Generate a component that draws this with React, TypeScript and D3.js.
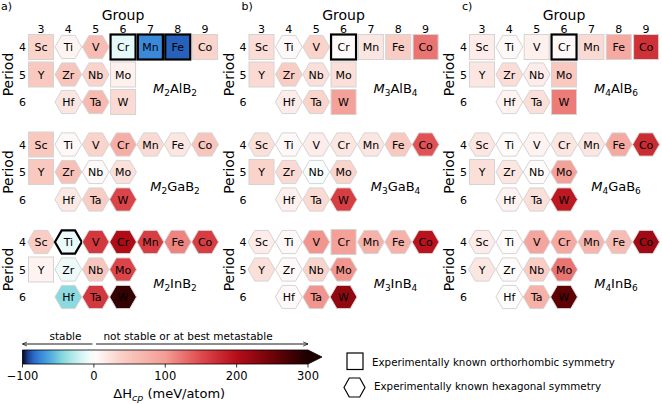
import * as d3 from "d3"

// elements laid out as in the periodic table
const elements = ["Sc", "Ti", "V", "Cr", "Mn", "Fe", "Co", "Y", "Zr", "Nb", "Mo", "Hf", "Ta", "W"]
const groups = [3, 4, 5, 6, 7, 8, 9, 3, 4, 5, 6, 4, 5, 6]
const periods = [4, 4, 4, 4, 4, 4, 4, 5, 5, 5, 5, 6, 6, 6]

const groupTicks = [3, 4, 5, 6, 7, 8, 9]
const periodTicks = [4, 5, 6]
const panelLetters = ["a)", "b)", "c)"]

// compound M_nAB_m : columns are n (2,3,4), rows are A (Al, Ga, In)
const mIndex = ["2", "3", "4"]
const bIndex = ["2", "4", "6"]
const aElements = ["Al", "Ga", "In"]

// ΔH_cp (meV/atom), same order as elements
const dH_M2AlB2 = [35, 8, 60, -10, -74, -86, 35, 45, 50, 35, 12, 20, 65, 30]
const dH_M2GaB2 = [45, 5, 35, 80, 30, 20, 50, 45, 55, 5, 25, 18, 40, 155]
const dH_M2InB2 = [40, -8, 165, 205, 160, 115, 160, 10, -7, 50, 155, -42, 165, 285]
const dH_M3AlB4 = [28, 5, 35, 4, 20, 40, 125, 30, 40, 25, 25, 15, 35, 95]
const dH_M3GaB4 = [25, 5, 15, 20, 20, 45, 145, 35, 30, -3, 35, 12, 30, 160]
const dH_M3InB4 = [15, 5, 105, 95, 75, 75, 195, 25, 5, 35, 105, 5, 105, 225]
const dH_M4AlB6 = [15, 5, 12, 5, 30, 85, 170, 20, 28, 15, 45, 10, 25, 120]
const dH_M4GaB6 = [20, 3, 10, 20, 20, 85, 175, 25, 20, 3, 95, 10, 25, 190]
const dH_M4InB6 = [15, 3, 90, 85, 70, 60, 215, 20, 3, 40, 125, 2, 75, 260]

// s = orthorhombic (square), h = hexagonal
const shape_M2AlB2 = "shhssss shhs hhs"
const shape_M2GaB2 = "shhhhhh shhh hhh"
const shape_M2InB2 = "hhhhhhh shhh hhh"
const shape_M3AlB4 = "shhssss shhs hhs"
const shape_M3GaB4 = "hhhhhhh shhh hhh"
const shape_M3InB4 = "hhhshhh hhhh hhh"
const shape_M4AlB6 = "shsssss shhs hhs"
const shape_M4GaB6 = "hhhhhhh shhh hhh"
const shape_M4InB6 = "hhhhhhh hhhh hhh"

// experimentally known
const exp_M2AlB2 = ["Cr", "Mn", "Fe"]
const exp_M2InB2 = ["Ti"]
const exp_M3AlB4 = ["Cr"]
const exp_M4AlB6 = ["Cr"]

// grid [row A][col n]
const values = [
  [dH_M2AlB2, dH_M3AlB4, dH_M4AlB6],
  [dH_M2GaB2, dH_M3GaB4, dH_M4GaB6],
  [dH_M2InB2, dH_M3InB4, dH_M4InB6],
]
const shapes = [
  [shape_M2AlB2, shape_M3AlB4, shape_M4AlB6],
  [shape_M2GaB2, shape_M3GaB4, shape_M4GaB6],
  [shape_M2InB2, shape_M3InB4, shape_M4InB6],
]
const known = [
  [exp_M2AlB2, exp_M3AlB4, exp_M4AlB6],
  [[], [], []],
  [exp_M2InB2, [], []],
]

const cbTicks = [-100, 0, 100, 200, 300]

const FONT = "DejaVu Sans, sans-serif"

const color = d3
  .scaleLinear<string>()
  .domain([-100, -93, -82, -64, -46, -24, 0, 40, 100, 150, 200, 250, 300])
  .range([
    "#05061c",
    "#1a3f90",
    "#2f74d4",
    "#4aa3e0",
    "#80d5dc",
    "#c4efef",
    "#ffffff",
    "#f9cdc4",
    "#f39d95",
    "#df4a4d",
    "#b50d19",
    "#6e0307",
    "#1c0000",
  ])
  .interpolate(d3.interpolateRgb)
  .clamp(true)

const panelX = d3.scaleLinear().domain([0, 2]).range([41, 482])
const panelY = d3.scaleLinear().domain([0, 2]).range([47, 242])
const gx = d3.scaleLinear().domain([3, 9]).range([0, 6 * 27.35])
const py = d3.scaleLinear().domain([4, 6]).range([0, 55])
const cbX = d3.scaleLinear().domain([-100, 300]).range([22.5, 308])

const R = 13.4
const H = 11.6
const hexPath = (r: number, h: number) =>
  d3.line()([
    [-r, 0],
    [-r / 2, -h],
    [r / 2, -h],
    [r, 0],
    [r / 2, h],
    [-r / 2, h],
  ]) + "Z"

function Panel({ row, col }: { row: number; col: number }) {
  const ox = panelX(col)
  const oy = panelY(row)
  const vals = values[row][col]
  const shp = shapes[row][col].replace(/ /g, "")
  const exp = known[row][col]
  return (
    <g>
      {row === 0 && (
        <g>
          <text x={ox - 40 + (col === 0 ? 0 : 20)} y={10} fontSize={11}>
            {panelLetters[col]}
          </text>
          <text x={ox + gx(6)} y={20} fontSize={14} textAnchor="middle">
            Group
          </text>
          {groupTicks.map((g) => (
            <text key={g} x={ox + gx(g)} y={33} fontSize={11} textAnchor="middle">
              {g}
            </text>
          ))}
        </g>
      )}
      <text
        transform={`translate(${ox - 28},${oy + py(5)}) rotate(-90)`}
        fontSize={14}
        textAnchor="middle"
      >
        Period
      </text>
      {periodTicks.map((p) => (
        <text key={p} x={ox - 18.5} y={oy + py(p) + 4} fontSize={11} textAnchor="middle">
          {p}
        </text>
      ))}
      {elements.map((el, i) => {
        const cx = ox + gx(groups[i])
        const cy = oy + py(periods[i])
        const isExp = exp.includes(el)
        const stroke = isExp ? "#000" : "#d4d4d4"
        const sw = isExp ? 2.2 : 1
        return (
          <g key={el} transform={`translate(${cx},${cy})`}>
            {shp[i] === "s" ? (
              <rect x={-12.5} y={-12.5} width={25} height={25} fill={color(vals[i])} stroke={stroke} strokeWidth={sw} />
            ) : (
              <path d={hexPath(R, H)} fill={color(vals[i])} stroke={stroke} strokeWidth={sw} />
            )}
            <text y={4} fontSize={11} textAnchor="middle">
              {el}
            </text>
          </g>
        )
      })}
      <text x={ox + 134} y={oy + 46} fontSize={13} textAnchor="middle">
        <tspan fontStyle="italic">M</tspan>
        <tspan fontSize={9} dy={3}>
          {mIndex[col]}
        </tspan>
        <tspan dy={-3}>{aElements[row]}B</tspan>
        <tspan fontSize={9} dy={3}>
          {bIndex[col]}
        </tspan>
      </text>
    </g>
  )
}

export default function App() {
  const stops = d3.range(0, 1.0001, 0.02)
  const barTop = 350
  const barH = 14
  const x0 = cbX(-100)
  const x1 = cbX(300)
  return (
    <svg
      width={662}
      height={404}
      style={{ position: "absolute", left: 0, top: 0, background: "#fff" }}
      fontFamily={FONT}
    >
      <defs>
        <linearGradient id="cb" x1="0" x2="1" y1="0" y2="0">
          {stops.map((t) => (
            <stop key={t} offset={t} stopColor={color(-100 + 400 * t)} />
          ))}
        </linearGradient>
        <marker id="ah" viewBox="0 0 10 10" refX="9" refY="5" markerWidth="6" markerHeight="6" orient="auto-start-reverse">
          <path d="M0,1 L9,5 L0,9" fill="none" stroke="#000" strokeWidth={1.3} />
        </marker>
      </defs>
      {[0, 1, 2].map((row) => [0, 1, 2].map((col) => <Panel key={`${row}-${col}`} row={row} col={col} />))}

      {/* colorbar */}
      <rect x={x0} y={barTop} width={x1 - x0} height={barH} fill="url(#cb)" />
      <path
        d={`M${x1},${barTop} L${x1 + 14},${barTop + barH / 2} L${x1},${barTop + barH} Z`}
        fill={color(300)}
      />
      <path
        d={`M${x0},${barTop} L${x1},${barTop} L${x1 + 14},${barTop + barH / 2} L${x1},${barTop + barH} L${x0},${barTop + barH} Z`}
        fill="none"
        stroke="#000"
        strokeWidth={0.8}
      />
      {cbTicks.map((t) => (
        <g key={t}>
          <line x1={cbX(t)} x2={cbX(t)} y1={barTop + barH} y2={barTop + barH + 3.5} stroke="#000" strokeWidth={0.8} />
          <text x={cbX(t)} y={380} fontSize={11.5} textAnchor="middle">
            {t < 0 ? `\u2212${-t}` : t}
          </text>
        </g>
      ))}
      <text x={(x0 + x1) / 2 + 4} y={398} fontSize={13} textAnchor="middle">
        ΔH
        <tspan fontStyle="italic" fontSize={9.5} dy={3}>
          cp
        </tspan>
        <tspan dy={-3}> (meV/atom)</tspan>
      </text>
      <line x1={cbX(-2)} x2={x0} y1={344} y2={344} stroke="#000" strokeWidth={0.9} markerEnd="url(#ah)" />
      <line x1={cbX(3)} x2={x1} y1={344} y2={344} stroke="#000" strokeWidth={0.9} markerEnd="url(#ah)" />
      <text x={(x0 + cbX(-2)) / 2 + 8} y={340} fontSize={10.5} textAnchor="middle">
        stable
      </text>
      <text x={(cbX(3) + x1) / 2 - 14} y={340} fontSize={10.5} textAnchor="middle">
        not stable or at best metastable
      </text>

      {/* legend */}
      <rect x={347} y={353} width={16} height={16.5} fill="none" stroke="#000" strokeWidth={1.2} />
      <text x={372} y={366} fontSize={10.3}>
        Experimentally known orthorhombic symmetry
      </text>
      <path d={hexPath(10.5, 9.5)} transform="translate(354.5,387.5)" fill="none" stroke="#000" strokeWidth={1.2} />
      <text x={374} y={390} fontSize={10.3}>
        Experimentally known hexagonal symmetry
      </text>
    </svg>
  )
}
